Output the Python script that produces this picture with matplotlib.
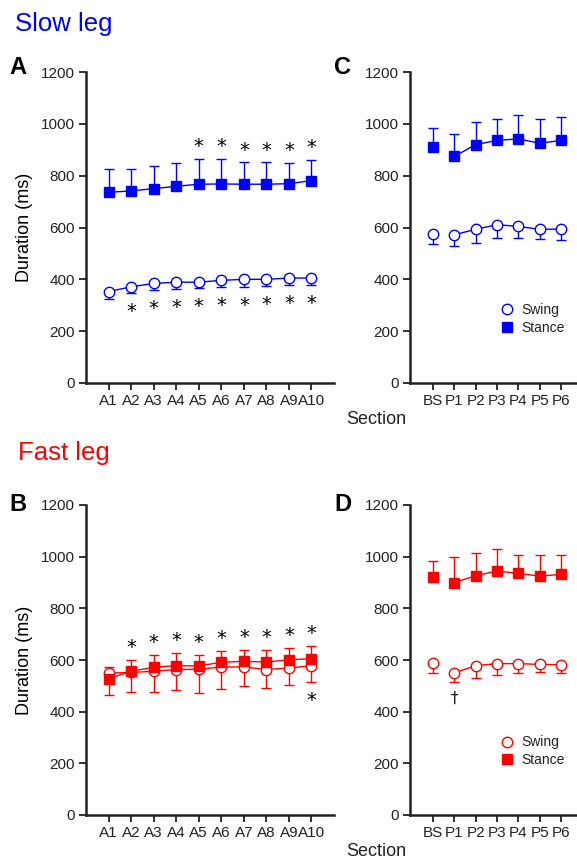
import numpy as np
import matplotlib.pyplot as plt

plt.rcParams['font.family'] = ['Liberation Sans', 'DejaVu Sans']
plt.rcParams['text.color'] = '#222222'

# ---- data ----
sections_a = ['A1', 'A2', 'A3', 'A4', 'A5', 'A6', 'A7', 'A8', 'A9', 'A10']
sections_p = ['BS', 'P1', 'P2', 'P3', 'P4', 'P5', 'P6']

# slow leg, adaptation
slow_a_stance = [736, 741, 750, 759, 767, 768, 767, 767, 769, 781]
slow_a_stance_sd = [91, 85, 86, 88, 99, 98, 84, 84, 79, 81]
slow_a_swing = [353, 371, 384, 389, 389, 396, 400, 400, 405, 405]
slow_a_swing_sd = [27, 24, 26, 26, 23, 24, 28, 25, 25, 26]
slow_a_sig_up = [0, 0, 0, 0, 1, 1, 1, 1, 1, 1]
slow_a_sig_down = [0, 1, 1, 1, 1, 1, 1, 1, 1, 1]

# slow leg, baseline + post
slow_p_stance = [912, 874, 920, 936, 942, 925, 936]
slow_p_stance_sd = [70, 87, 86, 82, 92, 92, 91]
slow_p_swing = [575, 572, 593, 611, 604, 593, 594]
slow_p_swing_sd = [40, 44, 53, 53, 43, 39, 42]
slow_p_dagger = [0, 0, 0, 0, 0, 0, 0]

# fast leg, adaptation
fast_a_stance = [528, 556, 572, 578, 577, 591, 595, 592, 601, 605]
fast_a_stance_sd = [46, 45, 46, 48, 41, 44, 45, 48, 47, 50]
fast_a_swing = [549, 552, 556, 563, 564, 573, 573, 563, 569, 578]
fast_a_swing_sd = [84, 76, 78, 81, 93, 86, 72, 72, 66, 63]
fast_a_sig_up = [0, 1, 1, 1, 1, 1, 1, 1, 1, 1]
fast_a_sig_down = [0, 0, 0, 0, 0, 0, 0, 0, 0, 1]

# fast leg, baseline + post
fast_p_stance = [921, 900, 926, 945, 935, 925, 931]
fast_p_stance_sd = [61, 99, 89, 85, 72, 83, 77]
fast_p_swing = [587, 550, 578, 586, 586, 583, 582]
fast_p_swing_sd = [37, 34, 49, 44, 35, 29, 32]
fast_p_dagger = [0, 1, 0, 0, 0, 0, 0]

W, H = 577, 861
fig = plt.figure(figsize=(W / 100, H / 100), dpi=100)


def box(l, t, r, b):
    return [l / W, 1 - b / H, (r - l) / W, (b - t) / H]


def panel(ax, labels, stance, stance_sd, swing, swing_sd, color,
          up=None, down=None, dagger=None, post=False):
    x = np.arange(len(labels)) if post else np.arange(1, len(labels) + 1)
    stance = np.array(stance); stance_sd = np.array(stance_sd)
    swing = np.array(swing); swing_sd = np.array(swing_sd)
    z = np.zeros(len(x))
    ax.errorbar(x, swing, yerr=[swing_sd, z], fmt='none', ecolor=color,
                elinewidth=1.0, capsize=3.5, capthick=1.0, zorder=2)
    ax.errorbar(x, stance, yerr=[z, stance_sd], fmt='none', ecolor=color,
                elinewidth=1.0, capsize=3.5, capthick=1.0, zorder=2)
    s = 1 if post else 0
    ax.plot(x[s:], swing[s:], '-', color=color, lw=1.0, zorder=3)
    ax.plot(x[s:], stance[s:], '-', color=color, lw=1.0, zorder=3)
    ax.plot(x, swing, 'o', ms=7.5, mfc='white', mec=color, mew=1.0,
            ls='none', zorder=4, label='Swing')
    ax.plot(x, stance, 's', ms=7, mfc=color, mec=color, ls='none',
            zorder=5, label='Stance')
    if up is not None:
        for xi, f, y, e in zip(x, up, stance, stance_sd):
            if f:
                ax.text(xi, y + e + 48, '*', ha='center', va='center',
                        fontsize=14, color='black', family='DejaVu Sans')
    if down is not None:
        for xi, f, y, e in zip(x, down, swing, swing_sd):
            if f:
                ax.text(xi, y - e - 72, '*', ha='center', va='center',
                        fontsize=14, color='black', family='DejaVu Sans')
    if dagger is not None:
        for xi, f, y, e in zip(x, dagger, swing, swing_sd):
            if f:
                ax.text(xi, y - e - 66, '\u2020', ha='center', va='center',
                        fontsize=11, color='black', family='DejaVu Sans')
    ax.set_ylim(0, 1200)
    ax.set_yticks(range(0, 1201, 200))
    ax.set_xticks(x)
    ax.set_xticklabels(labels)
    if post:
        ax.set_xlim(-1.08, 6.75)
    else:
        ax.set_xlim(0, 11)
    for sp in ['top', 'right']:
        ax.spines[sp].set_visible(False)
    for sp in ['left', 'bottom']:
        ax.spines[sp].set_linewidth(1.8)
        ax.spines[sp].set_color('#222222')
    ax.tick_params(width=1.3, length=5, labelsize=11, colors='#222222', pad=3)
    ax.set_facecolor('none')


axA = fig.add_axes(box(86, 72, 334, 383))
panel(axA, sections_a, slow_a_stance, slow_a_stance_sd, slow_a_swing,
      slow_a_swing_sd, 'blue', up=slow_a_sig_up, down=slow_a_sig_down)
axA.set_ylabel('Duration (ms)', fontsize=13, labelpad=6)

axC = fig.add_axes(box(410, 72, 577, 383))
panel(axC, sections_p, slow_p_stance, slow_p_stance_sd, slow_p_swing,
      slow_p_swing_sd, 'blue', dagger=slow_p_dagger, post=True)
axC.legend(loc='lower right', bbox_to_anchor=(1.0, 0.115), frameon=False,
           fontsize=10, handletextpad=0.4, labelspacing=0.25, handlelength=1.2)

axB = fig.add_axes(box(86, 505, 334, 815))
panel(axB, sections_a, fast_a_stance, fast_a_stance_sd, fast_a_swing,
      fast_a_swing_sd, 'red', up=fast_a_sig_up, down=fast_a_sig_down)
axB.set_ylabel('Duration (ms)', fontsize=13, labelpad=6)

axD = fig.add_axes(box(410, 505, 577, 815))
panel(axD, sections_p, fast_p_stance, fast_p_stance_sd, fast_p_swing,
      fast_p_swing_sd, 'red', dagger=fast_p_dagger, post=True)
axD.legend(loc='lower right', bbox_to_anchor=(1.0, 0.115), frameon=False,
           fontsize=10, handletextpad=0.4, labelspacing=0.25, handlelength=1.2)

# headings, panel letters, shared x label
fig.text(15 / W, 1 - 24 / H, 'Slow leg', color='blue', fontsize=18.5,
         va='center', ha='left')
fig.text(18 / W, 1 - 453 / H, 'Fast leg', color='red', fontsize=18.5,
         va='center', ha='left')
for lab, px, py in [('A', 9, 67), ('C', 334, 68), ('B', 9, 505), ('D', 334, 505)]:
    fig.text(px / W, 1 - py / H, lab, fontsize=17, fontweight='bold',
             color='black', va='center', ha='left')
fig.text(376 / W, 1 - 419 / H, 'Section', fontsize=13, ha='center', va='center')
fig.text(376 / W, 1 - 852 / H, 'Section', fontsize=13, ha='center', va='center')

fig.savefig('out.png', dpi=100)
